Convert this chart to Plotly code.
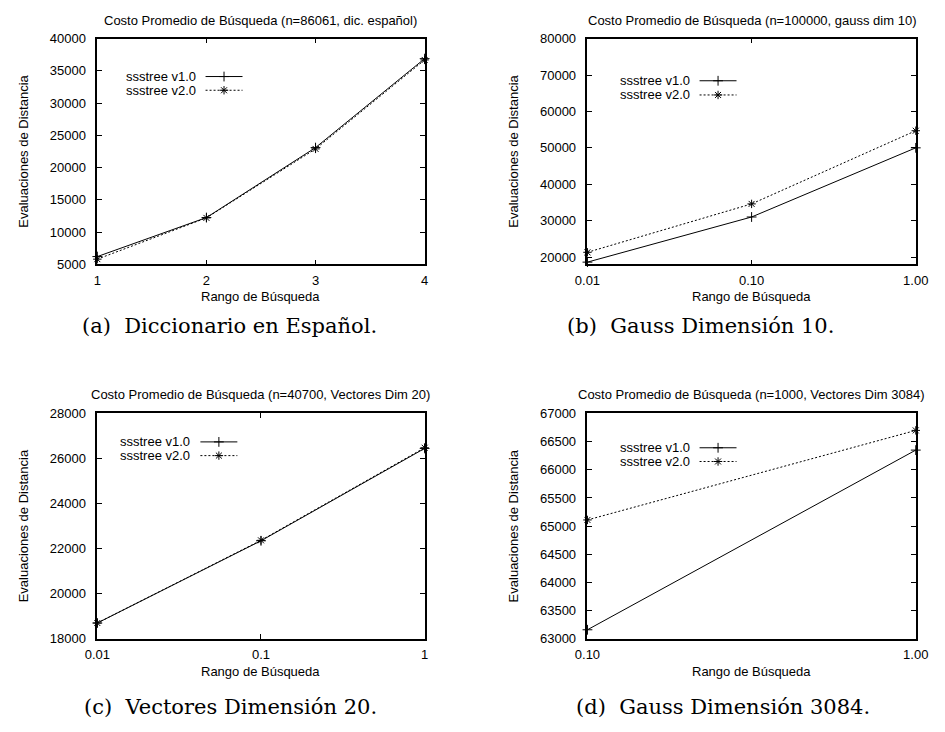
import plotly.graph_objects as go

# ---- data -------------------------------------------------------------
rango_a = [1, 2, 3, 4]
v1_a = [6200, 12250, 23100, 36900]
v2_a = [5800, 12200, 22900, 36700]

rango_b = [0.01, 0.1, 1.0]
v1_b = [18600, 31000, 50000]
v2_b = [21300, 34600, 54700]

rango_c = [0.01, 0.1, 1.0]
v1_c = [18700, 22350, 26450]
v2_c = [18700, 22370, 26480]

rango_d = [0.1, 1.0]
v1_d = [63160, 66350]
v2_d = [65110, 66700]

series_names = ["ssstree v1.0", "ssstree v2.0"]

titles = [
    "Costo Promedio de Búsqueda (n=86061, dic. español)",
    "Costo Promedio de Búsqueda (n=100000, gauss dim 10)",
    "Costo Promedio de Búsqueda (n=40700, Vectores Dim 20)",
    "Costo Promedio de Búsqueda (n=1000, Vectores Dim 3084)",
]
captions = [
    "(a)  Diccionario en Español.",
    "(b)  Gauss Dimensión 10.",
    "(c)  Vectores Dimensión 20.",
    "(d)  Gauss Dimensión 3084.",
]

xtick_a = [1, 2, 3, 4]
xtick_b = [0.01, 0.1, 1.0]
xtext_b = ["0.01", "0.10", "1.00"]
xtick_c = [0.01, 0.1, 1.0]
xtext_c = ["0.01", "0.1", "1"]
xtick_d = [0.1, 1.0]
xtext_d = ["0.10", "1.00"]

W, H = 945, 732
SANS = "Liberation Sans"
SERIF = "DejaVu Serif"
FS = 13

# panel frames in pixels: (left, right, top, bottom)
frames = [
    (86.7, 423.3, 32.3, 262.7),
    (590.7, 928.3, 32.3, 262.7),
    (86.7, 423.3, 415.0, 645.0),
    (590.7, 928.3, 415.0, 645.0),
]
# caption centre x and y
caption_pos = [(223, 326), (707, 326), (224, 715), (730, 715)]
# key: text right edge, sample x0, sample x1, row1 y, row2 y
key_pos = [
    (190.0, 198.0, 236.0, 71.0, 85.0),
    (697.7, 706.0, 744.0, 75.3, 89.8),
    (184.3, 192.7, 230.7, 444.0, 458.0),
    (697.7, 706.0, 744.0, 450.0, 464.0),
]

line_styles = [
    dict(color="black", width=1),
    dict(color="black", width=1, dash="2px,2px"),
]
marker_symbols = ["cross-thin-open", "asterisk-open"]


def px_x(v):
    return v / W


def px_y(v):
    return 1 - v / H


def marker(sym):
    return dict(symbol=sym, size=7, color="black",
                line=dict(color="black", width=1))


fig = go.Figure()

panels = [
    (rango_a, v1_a, v2_a),
    (rango_b, v1_b, v2_b),
    (rango_c, v1_c, v2_c),
    (rango_d, v1_d, v2_d),
]

for i, (xs, a, b) in enumerate(panels):
    suffix = "" if i == 0 else str(i + 1)
    for k, ys in enumerate((a, b)):
        fig.add_trace(go.Scatter(
            x=xs, y=ys, mode="lines+markers", name=series_names[k],
            line=line_styles[k], marker=marker(marker_symbols[k]),
            cliponaxis=False, xaxis="x" + suffix, yaxis="y" + suffix,
            showlegend=False, hoverinfo="x+y+name",
        ))

# key symbols drawn on an invisible full-page pixel axis
for k in range(2):
    kx = [(s0 + s1) / 2 for (tx, s0, s1, r1, r2) in key_pos]
    ky = [(r1 if k == 0 else r2) for (tx, s0, s1, r1, r2) in key_pos]
    fig.add_trace(go.Scatter(
        x=kx, y=ky, mode="markers", marker=marker(marker_symbols[k]),
        xaxis="x5", yaxis="y5", showlegend=False, hoverinfo="skip",
        cliponaxis=False,
    ))

axis_common = dict(
    showline=True, linecolor="black", linewidth=1.5, mirror="ticks",
    ticks="inside", ticklen=5, tickcolor="black", tickwidth=1,
    showgrid=False, zeroline=False,
    tickfont=dict(family=SANS, size=FS, color="black"),
)

xaxes = [
    dict(type="linear", range=[1, 4], tickvals=xtick_a),
    dict(type="log", range=[-2, 0], tickvals=xtick_b, ticktext=xtext_b),
    dict(type="log", range=[-2, 0], tickvals=xtick_c, ticktext=xtext_c),
    dict(type="log", range=[-1, 0], tickvals=xtick_d, ticktext=xtext_d),
]
yaxes = [
    dict(range=[5000, 40000], dtick=5000, tick0=0),
    dict(range=[18000, 80000], tick0=0, dtick=10000),
    dict(range=[18000, 28000], dtick=2000, tick0=0),
    dict(range=[63000, 67000], dtick=500, tick0=0),
]

text_font = dict(family=SANS, size=FS, color="black")

layout = dict(
    width=W, height=H, margin=dict(l=0, r=0, t=0, b=0),
    paper_bgcolor="white", plot_bgcolor="rgba(0,0,0,0)",
    showlegend=False,
    annotations=[], shapes=[],
    xaxis5=dict(domain=[0, 1], range=[0, W], visible=False, anchor="y5",
                fixedrange=True),
    yaxis5=dict(domain=[0, 1], range=[H, 0], visible=False, anchor="x5",
                fixedrange=True),
)

for i in range(4):
    suffix = "" if i == 0 else str(i + 1)
    l, r, t, btm = frames[i]
    layout["xaxis" + suffix] = dict(
        axis_common, domain=[px_x(l), px_x(r)], anchor="y" + suffix,
        ticklabelstandoff=3, **xaxes[i])
    layout["yaxis" + suffix] = dict(
        axis_common, domain=[px_y(btm), px_y(t)], anchor="x" + suffix,
        ticklabelstandoff=7, tickformat="d",
        title=dict(text="Evaluaciones de Distancia", font=text_font, standoff=18),
        **yaxes[i])

    cx = (l + r) / 2
    ann = layout["annotations"]
    ann.append(dict(text=titles[i], x=px_x(cx), y=px_y(t - 19),
                    xref="paper", yref="paper", showarrow=False,
                    xanchor="center", yanchor="middle", font=text_font))
    ann.append(dict(text="Rango de Búsqueda", x=px_x(cx), y=px_y(btm + 33),
                    xref="paper", yref="paper", showarrow=False,
                    xanchor="center", yanchor="middle", font=text_font))
    capx, capy = caption_pos[i]
    ann.append(dict(text=captions[i], x=px_x(capx), y=px_y(capy),
                    xref="paper", yref="paper", showarrow=False,
                    xanchor="center", yanchor="middle",
                    font=dict(family=SERIF, size=21, color="black")))

    tx, s0, s1, r1, r2 = key_pos[i]
    for k, yy in enumerate((r1, r2)):
        ann.append(dict(text=series_names[k], x=px_x(tx), y=px_y(yy),
                        xref="paper", yref="paper", showarrow=False,
                        xanchor="right", yanchor="middle", font=text_font))
        layout["shapes"].append(dict(
            type="line", xref="paper", yref="paper",
            x0=px_x(s0), x1=px_x(s1), y0=px_y(yy), y1=px_y(yy),
            line=line_styles[k]))

fig.update_layout(**layout)
fig.write_html("out.html")
